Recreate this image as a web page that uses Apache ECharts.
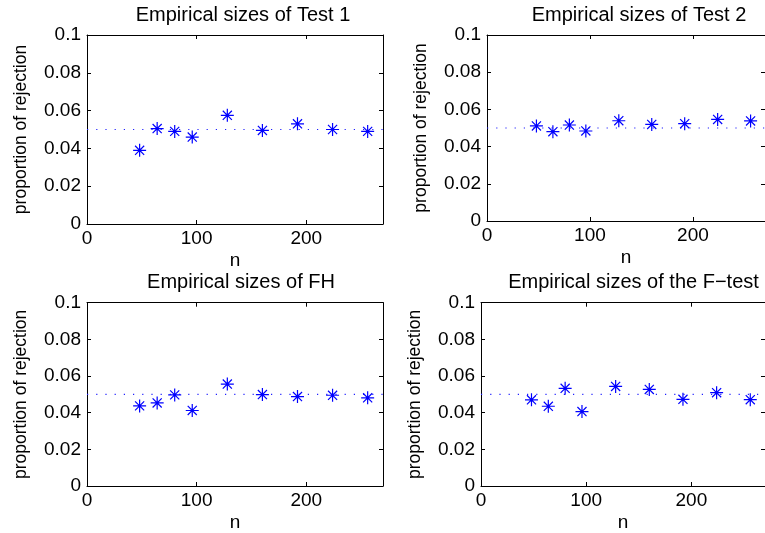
<!DOCTYPE html>
<html><head><meta charset="utf-8">
<script src="https://cdn.jsdelivr.net/npm/echarts@6/dist/echarts.min.js"></script>
<style>html,body{margin:0;padding:0;background:#fff}#c{width:765px;height:533px}</style>
</head><body><div id="c"></div>
<script>
// ---- data ----
const sampleSizes = [48, 64, 80, 96, 128, 160, 192, 224, 256];
const sizesTest1 = [0.0390, 0.0505, 0.0490, 0.0460, 0.0575, 0.0495, 0.0530, 0.0500, 0.0490];
const sizesTest2 = [0.0511, 0.0480, 0.0516, 0.0484, 0.0539, 0.0519, 0.0523, 0.0546, 0.0538];
const sizesFH    = [0.0437, 0.0453, 0.0497, 0.0412, 0.0556, 0.0499, 0.0488, 0.0495, 0.0481];
const sizesFtest = [0.0470, 0.0435, 0.0533, 0.0406, 0.0543, 0.0527, 0.0473, 0.0509, 0.0471];
const nominalLevel = 0.05;
const xRange = [0, 270];
const yRange = [0, 0.1];
const xTickStep = 100;
const yTickStep = 0.02;
const panelTitles = ['Empirical sizes of Test 1', 'Empirical sizes of Test 2',
                     'Empirical sizes of FH', 'Empirical sizes of the F\u2212test'];
const xLabel = 'n';
const yLabel = 'proportion of rejection';
const panelSeries = [sizesTest1, sizesTest2, sizesFH, sizesFtest];

// ---- layout ----
const FONT = '"Liberation Sans", Arial, Helvetica, sans-serif';
const panels = [
  {left: 87,  top: 35,    width: 296, height: 189, tdx: 3},
  {left: 487, top: 35,    width: 286, height: 186, tdx: 4},
  {left: 87,  top: 302.7, width: 296, height: 185, tdx: 1},
  {left: 481, top: 302.7, width: 293, height: 185.5, tdx: 1}
];
const asterisk = 'path://M6 0L6 12M0 6L12 6M1.8 1.8L10.2 10.2M1.8 10.2L10.2 1.8';

const grid = [], xAxis = [], yAxis = [], series = [], title = [];
panels.forEach((p, i) => {
  grid.push({left: p.left, top: p.top, width: p.width, height: p.height, containLabel: false});
  const line = {show: true, onZero: false, lineStyle: {color: '#000', width: 1}};
  const tick = {show: true, inside: true, length: 4, lineStyle: {color: '#000', width: 1}};
  const baseX = {type: 'value', gridIndex: i, min: xRange[0], max: xRange[1], interval: xTickStep,
    splitLine: {show: false}, axisLine: line, axisTick: tick};
  xAxis.push(Object.assign({}, baseX, {position: 'bottom',
    axisLabel: {show: true, color: '#000', fontSize: 19, fontFamily: FONT, margin: 5, showMaxLabel: false},
    name: xLabel, nameLocation: 'middle', nameGap: 27,
    nameTextStyle: {color: '#000', fontSize: 19, fontFamily: FONT}}));
  xAxis.push(Object.assign({}, baseX, {position: 'top', axisLabel: {show: false}}));
  const baseY = {type: 'value', gridIndex: i, min: yRange[0], max: yRange[1], interval: yTickStep,
    splitLine: {show: false}, axisLine: line, axisTick: tick};
  yAxis.push(Object.assign({}, baseY, {position: 'left',
    axisLabel: {show: true, color: '#000', fontSize: 19, fontFamily: FONT, margin: 6,
      formatter: v => String(Number(v.toFixed(2)))},
    name: yLabel, nameLocation: 'middle', nameGap: 57,
    nameTextStyle: {color: '#000', fontSize: 17.5, fontFamily: FONT}}));
  yAxis.push(Object.assign({}, baseY, {position: 'right', axisLabel: {show: false}}));

  title.push({text: panelTitles[i], left: p.left + p.width / 2 + p.tdx, top: p.top - 35, textAlign: 'center',
    textStyle: {color: '#000', fontSize: 20, fontWeight: 'normal', fontFamily: FONT}});

  series.push({type: 'line', xAxisIndex: 2 * i, yAxisIndex: 2 * i, silent: true, symbol: 'none',
    data: [[xRange[0], nominalLevel], [xRange[1], nominalLevel]],
    lineStyle: {color: '#2020ff', width: 1.2, type: [1.2, 8]}, z: 1});
  series.push({type: 'scatter', xAxisIndex: 2 * i, yAxisIndex: 2 * i, silent: true,
    symbol: asterisk, symbolSize: 13, symbolKeepAspect: true,
    data: sampleSizes.map((n, k) => [n, panelSeries[i][k]]),
    itemStyle: {color: 'rgba(0,0,0,0)', borderColor: '#0000ff', borderWidth: 1.2, opacity: 1}, z: 3});
});

const chart = echarts.init(document.getElementById('c'), null, {renderer: 'canvas'});
chart.setOption({animation: false, backgroundColor: '#fff', title, grid, xAxis, yAxis, series});
</script></body></html>
